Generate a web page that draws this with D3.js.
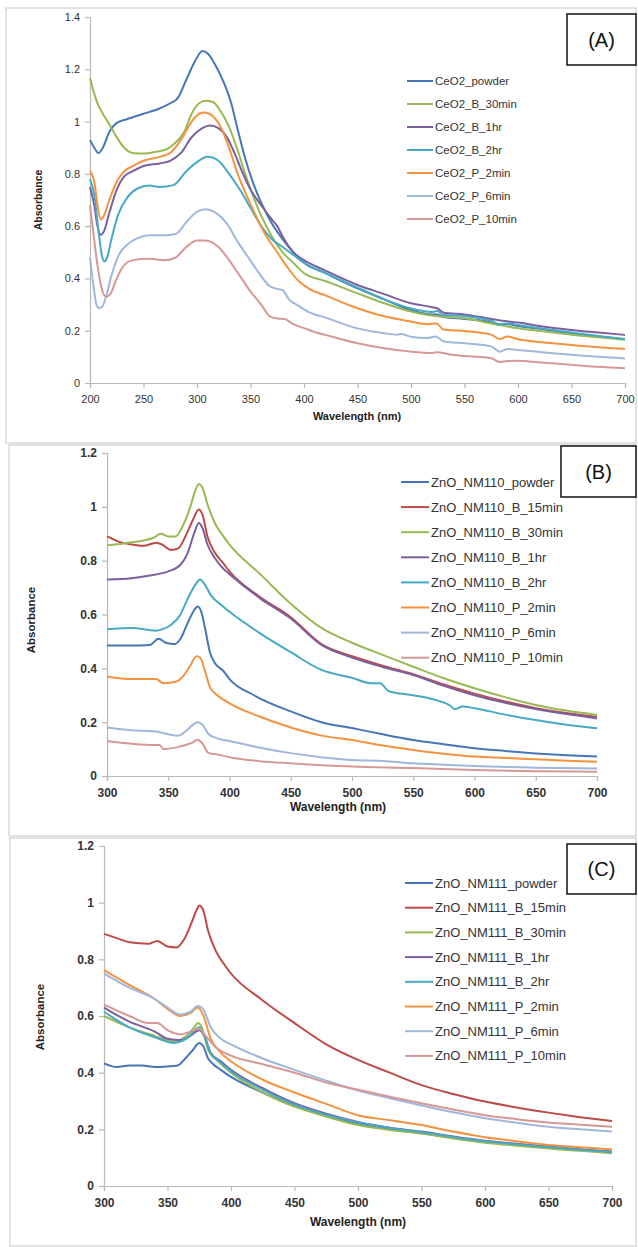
<!DOCTYPE html>
<html>
<head>
<style>
  body { margin: 0; background: #fff; }
  svg { display: block; font-family: "Liberation Sans", Arial, sans-serif; }
</style>
</head>
<body>
<script src="https://d3js.org/d3.v7.min.js"></script>
<div id="chart"></div>
<script>
// ---- data: [wavelength nm, absorbance] ----
const ceo2Names = ["CeO2_powder", "CeO2_B_30min", "CeO2_B_1hr", "CeO2_B_2hr", "CeO2_P_2min", "CeO2_P_6min", "CeO2_P_10min"];
const ceo2Powder = [[200,0.93],[204,0.9],[208,0.88],[212,0.9],[218,0.96],[225,0.995],[235,1.01],[250,1.03],[265,1.05],[275,1.07],[282,1.09],[290,1.16],[298,1.23],[305,1.27],[310,1.26],[318,1.21],[325,1.15],[332,1.07],[338,0.97],[345,0.86],[352,0.77],[360,0.69],[370,0.61],[380,0.55],[390,0.5],[400,0.46],[420,0.42],[450,0.362],[475,0.32],[500,0.279],[520,0.262],[525,0.262],[530,0.252],[550,0.245],[575,0.232],[583,0.222],[590,0.225],[600,0.218],[625,0.205],[650,0.19],[675,0.178],[700,0.167]];
const ceo2B30 = [[200,1.166],[203,1.12],[207,1.07],[212,1.03],[218,0.99],[225,0.94],[232,0.9],[240,0.88],[250,0.878],[262,0.885],[272,0.895],[280,0.92],[288,0.96],[295,1.03],[302,1.07],[308,1.08],[315,1.075],[322,1.04],[330,0.98],[338,0.89],[345,0.8],[352,0.72],[360,0.64],[370,0.56],[380,0.5],[390,0.46],[400,0.42],[420,0.39],[450,0.343],[475,0.305],[500,0.273],[525,0.255],[550,0.248],[575,0.228],[600,0.209],[625,0.197],[650,0.185],[675,0.175],[700,0.165]];
const ceo2B1h = [[200,0.75],[204,0.68],[207,0.6],[210,0.567],[213,0.58],[218,0.65],[225,0.74],[232,0.79],[240,0.81],[250,0.83],[265,0.84],[275,0.85],[285,0.88],[295,0.94],[305,0.975],[312,0.985],[320,0.975],[328,0.94],[335,0.88],[342,0.81],[350,0.74],[360,0.68],[370,0.625],[375,0.6],[380,0.56],[390,0.5],[400,0.47],[420,0.43],[450,0.375],[475,0.34],[500,0.305],[520,0.29],[525,0.285],[530,0.27],[550,0.262],[575,0.245],[590,0.236],[600,0.231],[625,0.215],[650,0.203],[675,0.193],[700,0.184]];
const ceo2B2h = [[200,0.78],[204,0.72],[208,0.58],[211,0.49],[213,0.465],[216,0.48],[220,0.55],[226,0.64],[235,0.71],[245,0.745],[255,0.755],[265,0.75],[278,0.757],[290,0.81],[300,0.845],[310,0.865],[320,0.85],[330,0.8],[340,0.74],[350,0.67],[360,0.6],[370,0.55],[380,0.52],[390,0.49],[400,0.46],[420,0.42],[450,0.365],[475,0.32],[500,0.285],[520,0.272],[525,0.275],[530,0.26],[550,0.256],[575,0.238],[583,0.225],[590,0.228],[600,0.222],[625,0.207],[650,0.193],[675,0.18],[700,0.168]];
const ceo2P2 = [[200,0.81],[204,0.77],[207,0.68],[210,0.625],[213,0.64],[218,0.7],[225,0.77],[232,0.81],[240,0.83],[250,0.85],[265,0.865],[275,0.88],[285,0.93],[295,1.0],[302,1.03],[307,1.035],[315,1.02],[322,0.98],[330,0.9],[338,0.8],[345,0.73],[355,0.64],[365,0.56],[375,0.5],[385,0.44],[395,0.39],[405,0.36],[420,0.335],[450,0.286],[475,0.255],[500,0.235],[515,0.225],[524,0.228],[530,0.205],[550,0.199],[575,0.185],[583,0.168],[590,0.178],[600,0.167],[625,0.155],[650,0.145],[675,0.137],[700,0.13]];
const ceo2P6 = [[200,0.48],[203,0.38],[206,0.3],[208,0.287],[211,0.29],[215,0.33],[220,0.41],[227,0.49],[235,0.53],[245,0.555],[255,0.565],[270,0.565],[280,0.57],[290,0.615],[300,0.655],[308,0.665],[318,0.65],[328,0.61],[338,0.54],[348,0.48],[358,0.42],[368,0.37],[375,0.36],[380,0.355],[386,0.32],[395,0.295],[405,0.27],[420,0.25],[450,0.209],[475,0.19],[488,0.185],[490,0.188],[500,0.177],[515,0.172],[523,0.178],[530,0.16],[550,0.152],[575,0.14],[583,0.12],[590,0.13],[600,0.126],[625,0.117],[650,0.108],[675,0.1],[700,0.094]];
const ceo2P10 = [[200,0.68],[203,0.58],[207,0.45],[211,0.36],[215,0.33],[219,0.34],[224,0.39],[230,0.44],[240,0.47],[255,0.475],[270,0.47],[280,0.48],[290,0.52],[300,0.545],[308,0.545],[320,0.52],[330,0.47],[340,0.41],[350,0.35],[360,0.3],[368,0.255],[375,0.247],[382,0.245],[390,0.225],[400,0.21],[410,0.195],[420,0.184],[450,0.152],[475,0.133],[500,0.12],[520,0.115],[525,0.118],[535,0.11],[550,0.103],[575,0.095],[583,0.08],[590,0.084],[600,0.085],[625,0.077],[650,0.07],[675,0.062],[700,0.056]];

const nm110Names = ["ZnO_NM110_powder", "ZnO_NM110_B_15min", "ZnO_NM110_B_30min", "ZnO_NM110_B_1hr", "ZnO_NM110_B_2hr", "ZnO_NM110_P_2min", "ZnO_NM110_P_6min", "ZnO_NM110_P_10min"];
const nm110Powder = [[300,0.485],[320,0.485],[335,0.487],[342,0.51],[348,0.495],[355,0.49],[360,0.51],[366,0.57],[371,0.615],[374,0.63],[377,0.61],[380,0.55],[384,0.46],[388,0.42],[395,0.39],[400,0.36],[420,0.3],[450,0.24],[475,0.2],[500,0.178],[525,0.155],[550,0.134],[575,0.118],[600,0.103],[625,0.093],[650,0.084],[675,0.077],[700,0.072]];
const nm110B15 = [[300,0.89],[310,0.87],[320,0.86],[330,0.855],[340,0.867],[345,0.86],[352,0.84],[358,0.845],[364,0.89],[370,0.95],[375,0.99],[378,0.97],[382,0.89],[388,0.83],[395,0.79],[400,0.76],[425,0.665],[450,0.59],[475,0.49],[500,0.445],[525,0.41],[550,0.378],[575,0.34],[600,0.306],[625,0.277],[650,0.252],[675,0.234],[700,0.22]];
const nm110B30 = [[300,0.857],[315,0.865],[330,0.875],[338,0.885],[344,0.9],[350,0.89],[356,0.89],[362,0.93],[368,1.0],[372,1.06],[375,1.085],[378,1.07],[382,1.01],[388,0.94],[395,0.89],[400,0.86],[425,0.75],[450,0.64],[475,0.55],[500,0.495],[525,0.45],[550,0.406],[575,0.363],[600,0.326],[625,0.293],[650,0.264],[675,0.243],[700,0.227]];
const nm110B1h = [[300,0.73],[320,0.735],[335,0.745],[350,0.76],[360,0.785],[366,0.83],[371,0.9],[375,0.94],[378,0.92],[382,0.86],[388,0.81],[395,0.77],[400,0.75],[425,0.66],[450,0.585],[475,0.487],[500,0.44],[525,0.405],[550,0.375],[575,0.335],[600,0.3],[625,0.272],[650,0.249],[675,0.23],[700,0.214]];
const nm110B2h = [[300,0.545],[320,0.55],[340,0.54],[345,0.545],[352,0.56],[360,0.6],[366,0.66],[372,0.71],[376,0.73],[380,0.71],[385,0.67],[392,0.64],[400,0.61],[425,0.53],[450,0.46],[475,0.394],[500,0.365],[515,0.345],[523,0.345],[530,0.315],[550,0.3],[570,0.28],[580,0.262],[584,0.248],[590,0.258],[600,0.252],[625,0.228],[650,0.208],[675,0.19],[700,0.177]];
const nm110P2 = [[300,0.37],[320,0.36],[340,0.36],[346,0.345],[356,0.35],[362,0.37],[368,0.41],[373,0.445],[376,0.44],[380,0.39],[384,0.33],[390,0.3],[400,0.27],[425,0.22],[450,0.18],[475,0.15],[500,0.134],[525,0.113],[550,0.097],[575,0.083],[600,0.072],[625,0.067],[650,0.062],[675,0.057],[700,0.053]];
const nm110P6 = [[300,0.18],[320,0.17],[340,0.165],[350,0.155],[358,0.15],[364,0.165],[370,0.19],[374,0.2],[378,0.19],[383,0.155],[390,0.14],[400,0.13],[425,0.105],[450,0.085],[475,0.07],[500,0.059],[525,0.056],[550,0.047],[575,0.042],[600,0.037],[650,0.031],[700,0.028]];
const nm110P10 = [[300,0.13],[320,0.12],[338,0.115],[343,0.115],[346,0.1],[360,0.11],[370,0.125],[374,0.135],[378,0.12],[383,0.085],[390,0.08],[400,0.07],[425,0.055],[450,0.047],[475,0.04],[500,0.035],[550,0.03],[600,0.022],[650,0.018],[700,0.016]];

const nm111Names = ["ZnO_NM111_powder", "ZnO_NM111_B_15min", "ZnO_NM111_B_30min", "ZnO_NM111_B_1hr", "ZnO_NM111_B_2hr", "ZnO_NM111_P_2min", "ZnO_NM111_P_6min", "ZnO_NM111_P_10min"];
const nm111Powder = [[300,0.433],[310,0.42],[320,0.425],[330,0.425],[340,0.42],[350,0.422],[358,0.425],[364,0.45],[370,0.48],[375,0.505],[378,0.495],[382,0.45],[386,0.43],[392,0.41],[400,0.385],[425,0.33],[450,0.282],[475,0.247],[500,0.218],[525,0.2],[550,0.186],[575,0.17],[600,0.156],[625,0.145],[650,0.135],[675,0.127],[700,0.12]];
const nm111B15 = [[300,0.89],[310,0.875],[320,0.86],[335,0.855],[342,0.865],[350,0.845],[357,0.842],[363,0.87],[369,0.93],[373,0.975],[375,0.99],[378,0.975],[382,0.9],[388,0.83],[395,0.78],[400,0.75],[425,0.655],[450,0.575],[475,0.5],[500,0.445],[525,0.4],[550,0.356],[575,0.325],[600,0.298],[625,0.277],[650,0.259],[675,0.243],[700,0.229]];
const nm111B30 = [[300,0.6],[320,0.56],[340,0.53],[355,0.51],[365,0.53],[371,0.56],[374,0.575],[377,0.56],[382,0.48],[390,0.44],[400,0.4],[425,0.33],[450,0.28],[475,0.245],[500,0.215],[525,0.198],[550,0.185],[575,0.168],[600,0.153],[625,0.142],[650,0.132],[675,0.124],[700,0.116]];
const nm111B1h = [[300,0.63],[320,0.58],[340,0.545],[350,0.52],[360,0.515],[368,0.53],[375,0.55],[379,0.53],[384,0.47],[392,0.44],[400,0.41],[425,0.345],[450,0.292],[475,0.255],[500,0.226],[525,0.206],[550,0.192],[575,0.175],[600,0.16],[625,0.149],[650,0.139],[675,0.13],[700,0.122]];
const nm111B2h = [[300,0.615],[320,0.56],[340,0.525],[355,0.505],[365,0.52],[375,0.56],[379,0.53],[384,0.47],[392,0.435],[400,0.405],[425,0.34],[450,0.288],[475,0.252],[500,0.224],[525,0.205],[550,0.19],[575,0.173],[600,0.158],[625,0.147],[650,0.137],[675,0.128],[700,0.12]];
const nm111P2 = [[300,0.762],[320,0.71],[340,0.66],[350,0.625],[360,0.6],[368,0.61],[374,0.63],[378,0.605],[384,0.52],[392,0.47],[400,0.44],[425,0.375],[450,0.33],[475,0.29],[500,0.25],[525,0.232],[550,0.215],[575,0.192],[600,0.172],[625,0.158],[650,0.145],[675,0.137],[700,0.129]];
const nm111P6 = [[300,0.75],[320,0.7],[340,0.66],[350,0.63],[360,0.605],[368,0.615],[374,0.635],[378,0.625],[384,0.56],[392,0.52],[400,0.5],[425,0.45],[450,0.41],[475,0.372],[500,0.337],[525,0.31],[550,0.284],[575,0.26],[600,0.239],[625,0.223],[650,0.209],[675,0.2],[700,0.192]];
const nm111P10 = [[300,0.64],[320,0.6],[335,0.575],[342,0.575],[350,0.55],[360,0.535],[368,0.545],[375,0.555],[380,0.53],[388,0.49],[400,0.46],[425,0.43],[450,0.4],[475,0.365],[500,0.34],[525,0.315],[550,0.292],[575,0.27],[600,0.25],[625,0.236],[650,0.224],[675,0.216],[700,0.209]];

const ticksA_x = [200, 250, 300, 350, 400, 450, 500, 550, 600, 650, 700];
const ticksA_y = [0, 0.2, 0.4, 0.6, 0.8, 1, 1.2, 1.4];
const ticksZnO_x = [300, 350, 400, 450, 500, 550, 600, 650, 700];
const ticksZnO_y = [0, 0.2, 0.4, 0.6, 0.8, 1, 1.2];

// excel 2007 palette
const C = { blue: "#4676b6", red: "#bd4b48", green: "#98b954", purple: "#7c5f9f", aqua: "#46aac4", orange: "#f59240", lblue: "#9fb7db", pink: "#d69896" };
const colorsA = [C.blue, C.green, C.purple, C.aqua, C.orange, C.lblue, C.pink];
const colorsZnO = [C.blue, C.red, C.green, C.purple, C.aqua, C.orange, C.lblue, C.pink];

const W = 638, H = 1247;
const svg = d3.select("#chart").append("svg").attr("width", W).attr("height", H);

function drawPanel(p) {
  const g = svg.append("g");
  g.append("rect").attr("x", p.frame[0]).attr("y", p.frame[1])
    .attr("width", p.frame[2] - p.frame[0]).attr("height", p.frame[3] - p.frame[1])
    .attr("fill", "#fff").attr("stroke", "#cfcfcf").attr("stroke-width", 1.2);

  const x = d3.scaleLinear().domain([p.xTicks[0], p.xTicks[p.xTicks.length - 1]]).range([p.left, p.right]);
  const y = d3.scaleLinear().domain([0, p.yTicks[p.yTicks.length - 1]]).range([p.bottom, p.top]);
  const fmt = d => String(+d.toFixed(1));

  const xa = g.append("g").attr("transform", `translate(0,${p.bottom})`)
    .call(d3.axisBottom(x).tickValues(p.xTicks).tickFormat(fmt).tickSize(5).tickPadding(7));
  const ya = g.append("g").attr("transform", `translate(${p.left},0)`)
    .call(d3.axisLeft(y).tickValues(p.yTicks).tickFormat(fmt).tickSize(5).tickPadding(5));
  [xa, ya].forEach(a => {
    a.select(".domain").attr("stroke", "#b8b8b8").attr("stroke-width", 1.2);
    a.selectAll(".tick line").attr("stroke", "#b8b8b8").attr("stroke-width", 1.2);
    a.selectAll(".tick text").attr("fill", "#333").style("font-size", p.tickFont + "px")
      .style("font-weight", p.tickWeight);
  });

  const line = d3.line().x(d => x(d[0])).y(d => y(d[1])).curve(d3.curveMonotoneX);
  p.series.forEach((s, i) => {
    g.append("path").datum(s).attr("d", line).attr("fill", "none")
      .attr("stroke", p.colors[i]).attr("stroke-width", 2).attr("stroke-linejoin", "round");
  });

  // axis titles
  g.append("text").attr("transform", `translate(${p.yTitle[0]},${p.yTitle[1]}) rotate(-90)`)
    .attr("text-anchor", "middle").attr("fill", "#222").style("font-weight", "bold")
    .style("font-size", p.titleFont + "px").text("Absorbance");
  g.append("text").attr("x", p.xTitle[0]).attr("y", p.xTitle[1])
    .attr("text-anchor", "middle").attr("fill", "#222").style("font-weight", "bold")
    .style("font-size", p.xTitleFont + "px").text("Wavelength (nm)");

  // legend
  const lg = g.append("g");
  p.names.forEach((n, i) => {
    const ly = p.legend.y + i * p.legend.dy;
    lg.append("line").attr("x1", p.legend.x).attr("x2", p.legend.x + p.legend.len)
      .attr("y1", ly).attr("y2", ly).attr("stroke", p.colors[i]).attr("stroke-width", 2);
    lg.append("text").attr("x", p.legend.x + p.legend.len + 2).attr("y", ly).attr("dy", "0.35em")
      .attr("fill", "#333").style("font-size", p.legend.font + "px")
      .style("font-weight", p.legend.weight).text(n);
  });

  // panel tag
  g.append("rect").attr("x", p.tag[0]).attr("y", p.tag[1])
    .attr("width", p.tag[2] - p.tag[0]).attr("height", p.tag[3] - p.tag[1])
    .attr("fill", "#fff").attr("stroke", "#111").attr("stroke-width", 1.5);
  g.append("text").attr("x", (p.tag[0] + p.tag[2]) / 2).attr("y", (p.tag[1] + p.tag[3]) / 2)
    .attr("dy", "0.36em").attr("text-anchor", "middle").attr("fill", "#111")
    .style("font-size", "20px").text(p.label);
}

drawPanel({
  frame: [6, 8, 636, 443], left: 90, right: 625, top: 17, bottom: 383,
  xTicks: ticksA_x, yTicks: ticksA_y, tickFont: 11, tickWeight: "normal",
  series: [ceo2Powder, ceo2B30, ceo2B1h, ceo2B2h, ceo2P2, ceo2P6, ceo2P10],
  names: ceo2Names, colors: colorsA,
  yTitle: [42, 200], titleFont: 10.5, xTitle: [357, 420], xTitleFont: 11,
  legend: { x: 407, y: 81, dy: 23, len: 26, font: 11.5, weight: "normal" },
  tag: [567, 14, 636, 65], label: "(A)"
});

drawPanel({
  frame: [9, 445, 636, 836], left: 107, right: 597, top: 453, bottom: 776,
  xTicks: ticksZnO_x, yTicks: ticksZnO_y, tickFont: 12, tickWeight: "bold",
  series: [nm110Powder, nm110B15, nm110B30, nm110B1h, nm110B2h, nm110P2, nm110P6, nm110P10],
  names: nm110Names, colors: colorsZnO,
  yTitle: [35, 620], titleFont: 11.5, xTitle: [338, 811], xTitleFont: 12,
  legend: { x: 401, y: 482, dy: 25.1, len: 28, font: 13, weight: "normal" },
  tag: [561, 446, 636, 497], label: "(B)"
});

drawPanel({
  frame: [10, 838, 636, 1246], left: 104, right: 612, top: 846, bottom: 1186,
  xTicks: ticksZnO_x, yTicks: ticksZnO_y, tickFont: 12, tickWeight: "bold",
  series: [nm111Powder, nm111B15, nm111B30, nm111B1h, nm111B2h, nm111P2, nm111P6, nm111P10],
  names: nm111Names, colors: colorsZnO,
  yTitle: [44, 1017], titleFont: 11.5, xTitle: [358, 1226], xTitleFont: 12,
  legend: { x: 405, y: 883, dy: 24.7, len: 28, font: 13, weight: "normal" },
  tag: [567, 844, 636, 894], label: "(C)"
});
</script>
</body>
</html>
